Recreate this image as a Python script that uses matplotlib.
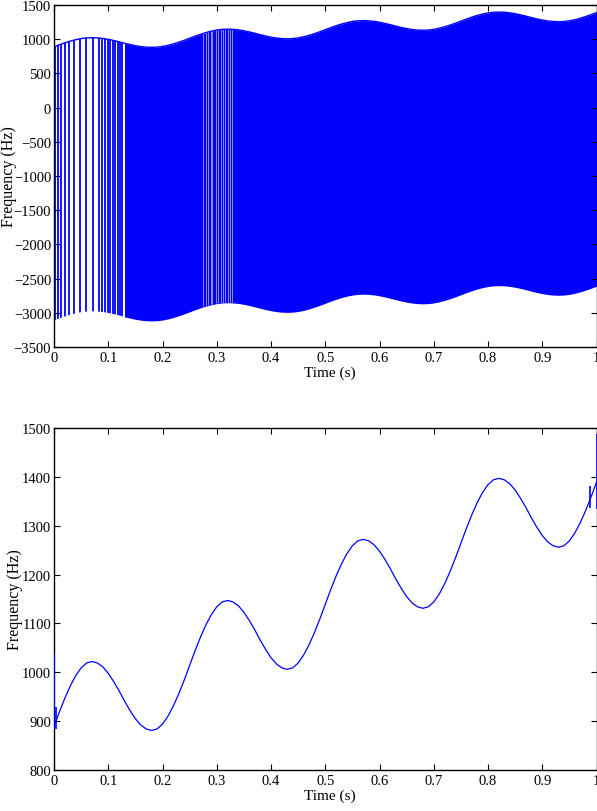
import numpy as np
import matplotlib
matplotlib.use('Agg')
from matplotlib import pyplot as plt

# instantaneous frequency estimate, read every 10 ms
t = np.arange(0, 101) / 100.0
freq = [889, 919, 947, 972, 993, 1009, 1019, 1022, 1019, 1011,
        998, 981, 962, 941, 922, 905, 892, 884, 881, 884,
        894, 910, 931, 956, 984, 1014, 1044, 1072, 1097, 1118,
        1134, 1144, 1147, 1144, 1136, 1123, 1106, 1087, 1066, 1047,
        1030, 1017, 1009, 1006, 1009, 1019, 1035, 1056, 1081, 1109,
        1139, 1169, 1197, 1222, 1243, 1259, 1269, 1272, 1269, 1261,
        1248, 1231, 1212, 1191, 1172, 1155, 1142, 1134, 1131, 1134,
        1144, 1160, 1181, 1206, 1234, 1264, 1294, 1322, 1347, 1368,
        1384, 1394, 1397, 1394, 1386, 1373, 1356, 1337, 1316, 1297,
        1280, 1267, 1259, 1256, 1259, 1269, 1285, 1306, 1331, 1359,
        1389]
freq = np.array(freq)
fs = 4000  # aliased branch sits one sample rate below

# times where the raw estimate drops to the aliased branch (sparse part)
jump_t = [0.0024, 0.0074, 0.0135, 0.0203, 0.0282, 0.0369, 0.0474, 0.0599,
          0.0713, 0.0824, 0.0885, 0.0946, 0.0990, 0.1038, 0.1083, 0.1130,
          0.1175, 0.1217, 0.1253]
dense_from = 0.13
# light gaps inside the dense band around 0.3 s
gap_t = [0.275, 0.280, 0.284, 0.289, 0.292, 0.298, 0.303, 0.307, 0.312,
         0.316, 0.321, 0.325, 0.329]

# edge glitches of the smoothed estimate
spike_t = [0.0, 0.003, 0.988, 1.0]
spike_lo = [884, 884, 1336, 1334]
spike_hi = [1041, 928, 1381, 1488]

xticks = [0, 0.1, 0.2, 0.3, 0.4, 0.5, 0.6, 0.7, 0.8, 0.9, 1]
xticklabels = ['0', '0.1', '0.2', '0.3', '0.4', '0.5', '0.6', '0.7', '0.8', '0.9', '1']

plt.rcParams['font.family'] = ['Liberation Serif', 'DejaVu Serif']
plt.rcParams['font.size'] = 10.5

W, H = 597, 812
fig = plt.figure(figsize=(W / 100.0, H / 100.0), dpi=100)
ax1 = fig.add_axes([54 / W, (H - 348) / H, 542.5 / W, 342 / H])
ax2 = fig.add_axes([54 / W, (H - 771) / H, 542.5 / W, 342 / H])

blue = '#0000ff'

# top: raw estimate jumping between the two branches
band = ax1.fill_between(t, freq - fs, freq, where=t >= dense_from - 1e-9,
                        color=blue, lw=0)
clip = ax1.fill_between(t, freq - fs, freq, color='none', lw=0)
lines = ax1.vlines(jump_t, -3500, 1500, color=blue, lw=1.3)
lines.set_clip_path(clip.get_paths()[0], ax1.transData)
gaps = ax1.vlines(gap_t, -3500, 1500, color='#8c8cff', lw=0.7)
gaps.set_clip_path(clip.get_paths()[0], ax1.transData)
ax1.plot(t, freq, color=blue, lw=1.0)
ax1.set_ylim(-3500, 1500)
ax1.set_yticks(np.arange(-3500, 1501, 500))

# bottom: smoothed estimate
ax2.plot(t, freq, color=blue, lw=0.9)
# glitches sit on the spines in the original, so draw them on top
ax2.vlines(spike_t, spike_lo, spike_hi, color=blue, lw=1.2, zorder=3)
ax2.set_ylim(800, 1500)
ax2.set_yticks(np.arange(800, 1501, 100))

for ax, ylab_x in ((ax1, -0.068), (ax2, -0.058)):
    ax.set_xlim(0, 1)
    ax.set_xticks(xticks)
    ax.set_xticklabels(xticklabels)
    ax.tick_params(direction='in', top=True, right=True, length=4, width=0.8,
                   labelsize=10.5)
    ax.tick_params(axis='y', pad=2)
    ax.tick_params(axis='x', pad=3)
    for s in ax.spines.values():
        s.set_linewidth(1.0)
    ax.set_xlabel('Time (s)', fontsize=11)
    ax.xaxis.set_label_coords(0.509, -0.055)
    ax.set_ylabel('Frequency (Hz)', fontsize=11.5)
    ax.yaxis.set_label_coords(ylab_x, 0.5)

fig.savefig('out.png', dpi=100)
